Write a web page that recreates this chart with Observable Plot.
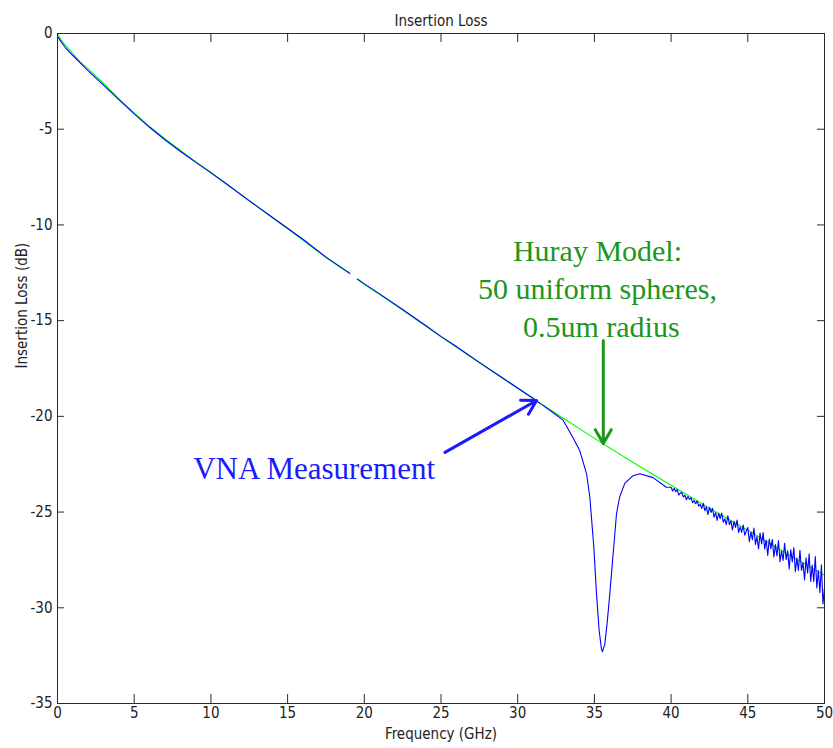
<!DOCTYPE html>
<html>
<head>
<meta charset="utf-8">
<script src="https://cdn.jsdelivr.net/npm/d3@7"></script>
<script src="https://cdn.jsdelivr.net/npm/@observablehq/plot@0.6"></script>
<style>
  body { margin: 0; background: #fff; }
  #chart svg { display: block; }
</style>
</head>
<body>
<div id="chart"></div>
<script>
// Huray roughness model: 50 uniform spheres, 0.5 um radius
const modelFreq = [0, 0.25, 0.5, 1, 1.5, 2, 3, 4, 5, 6, 7, 8, 9, 10, 12.5, 15, 17.5, 19.05, 19.3, 19.55, 20, 22.5, 25, 27.5, 30, 32.5, 35, 37.5, 40, 42.5, 45, 47.5, 50];
const modelLoss = [0, -0.35, -0.6, -1.05, -1.5, -1.85, -2.6, -3.4, -4.15, -4.85, -5.5, -6.1, -6.7, -7.25, -8.75, -10.2, -11.7, -12.55, NaN, -12.85, -13.1, -14.45, -15.85, -17.2, -18.55, -19.85, -21.15, -22.4, -23.6, -24.8, -25.95, -27.15, -28.3];

// VNA measurement (GHz, dB)
const vnaFreq = [
  0, 0.25, 0.5, 1, 1.5, 2, 3, 4, 5, 6, 7, 8, 9, 10, 11, 12.5, 14, 15, 16, 17.5, 19.05, 19.3, 19.55, 20, 21, 22.5, 24, 25, 26, 27.5, 29, 30, 31, 31.5, 32.3, 32.96,
  33.6, 34.05, 34.49, 34.7, 34.81, 34.96, 35.14, 35.31, 35.46, 35.52, 35.68, 35.83, 36.0, 36.22, 36.44, 36.65, 36.98, 37.52, 37.96, 38.82, 39.69,
  40.0, 40.1, 40.2, 40.3, 40.4, 40.5, 40.6, 40.7, 40.8, 40.9, 41.0, 41.1, 41.2, 41.3, 41.4, 41.5, 41.6, 41.7, 41.8, 41.9,
  42.0, 42.1, 42.2, 42.3, 42.4, 42.5, 42.6, 42.7, 42.8, 42.9, 43.0, 43.1, 43.2, 43.3, 43.4, 43.5, 43.6, 43.7, 43.8, 43.9,
  44.0, 44.1, 44.2, 44.3, 44.4, 44.5, 44.6, 44.7, 44.8, 44.9, 45.0, 45.1, 45.2, 45.3, 45.4, 45.5, 45.6, 45.7, 45.8, 45.9,
  46.0, 46.1, 46.2, 46.3, 46.4, 46.5, 46.6, 46.7, 46.8, 46.9, 47.0, 47.1, 47.2, 47.3, 47.4, 47.5, 47.6, 47.7, 47.8, 47.9,
  48.0, 48.1, 48.2, 48.3, 48.4, 48.5, 48.6, 48.7, 48.8, 48.9, 49.0, 49.1, 49.2, 49.3, 49.4, 49.5, 49.6, 49.7, 49.8, 49.9, 50.0
];
const vnaLoss = [
  -0.15, -0.45, -0.72, -1.15, -1.55, -1.95, -2.7, -3.45, -4.2, -4.9, -5.55, -6.15, -6.72, -7.28, -7.85, -8.73, -9.6, -10.17, -10.75, -11.68, -12.52, NaN, -12.82, -13.08, -13.6, -14.42, -15.25, -15.82, -16.35, -17.18, -17.98, -18.52, -19.05, -19.35, -19.8, -20.2,
  -21.1, -21.8, -23.0, -24.2, -25.3, -26.8, -29.3, -31.2, -32.15, -32.3, -31.9, -30.8, -29.3, -27.2, -25.1, -24.2, -23.5, -23.1, -23.0, -23.2, -23.7,
  -23.70, -23.90, -23.76, -23.94, -23.82, -24.11, -24.01, -23.98, -24.21, -24.12, -24.36, -24.18, -24.34, -24.25, -24.51, -24.40, -24.56, -24.42, -24.69, -24.60,
  -24.81, -24.54, -24.93, -24.73, -25.13, -24.75, -25.02, -24.80, -25.27, -25.03, -25.44, -25.06, -25.35, -25.05, -25.53, -25.35, -25.66, -25.19, -25.66, -25.46,
  -25.93, -25.48, -25.80, -25.42, -26.07, -25.77, -26.06, -25.68, -26.21, -26.00, -25.80, -26.55, -26.04, -26.44, -25.84, -26.69, -26.28, -26.93, -26.10, -26.67,
  -26.07, -26.92, -26.46, -27.26, -26.41, -26.91, -26.43, -27.35, -26.70, -27.29, -26.49, -27.59, -27.03, -27.53, -26.63, -27.48, -27.02, -27.97, -26.97, -27.61,
  -26.86, -28.11, -27.40, -28.05, -27.00, -28.05, -27.64, -28.54, -27.39, -28.18, -27.18, -28.63, -27.77, -28.62, -27.32, -28.97, -28.06, -29.21, -27.76, -29.80, -28.95
];

const xTicks = [0, 5, 10, 15, 20, 25, 30, 35, 40, 45, 50];
const yTicks = [0, -5, -10, -15, -20, -25, -30, -35];

const hurayLines = ["Huray Model:", "50 uniform spheres,", "0.5um radius"];
const vnaLabel = ["VNA Measurement"];

const model = modelFreq.map((f, i) => ({f, db: modelLoss[i]}));
const vna = vnaFreq.map((f, i) => ({f, db: vnaLoss[i]}));

const uiFont = "'Liberation Sans Narrow', 'DejaVu Sans Condensed', 'Liberation Sans', Arial, sans-serif";
const serif = "'Liberation Serif', 'Times New Roman', serif";
const axisColor = "#2a2a2a";
const annGreen = "#1c961c";
const annBlue = "#1a1aff";

const frameW = 833 - 57 - 9;
const frameH = 748 - 33 - 45;

const chart = Plot.plot({
  width: 833,
  height: 748,
  marginLeft: 57,
  marginRight: 9,
  marginTop: 33,
  marginBottom: 45,
  style: {background: "#fff", fontFamily: uiFont, color: "#222"},
  x: {domain: [0, 50]},
  y: {domain: [-35, 0]},
  marks: [
    Plot.line(model, {x: "f", y: "db", stroke: "#00ff00", strokeWidth: 1.1}),
    Plot.line(vna, {x: "f", y: "db", stroke: "#0000ff", strokeWidth: 1.1}),
    Plot.frame({stroke: axisColor, strokeWidth: 1}),
    // inward tick marks on all four sides
    Plot.tickX(xTicks, {x: d => d, insetTop: frameH - 9, stroke: axisColor}),
    Plot.tickX(xTicks, {x: d => d, insetBottom: frameH - 9, stroke: axisColor}),
    Plot.tickY(yTicks, {y: d => d, insetRight: frameW - 7, stroke: axisColor}),
    Plot.tickY(yTicks, {y: d => d, insetLeft: frameW - 7, stroke: axisColor}),
    Plot.axisX({ticks: xTicks, tickSize: 0, tickPadding: 4, tickFormat: d => String(d), label: null, fontSize: 15, fontFamily: uiFont}),
    Plot.axisY({ticks: yTicks, tickSize: 0, tickPadding: 5, tickFormat: d => String(d), label: null, fontSize: 15, fontFamily: uiFont}),
    Plot.text(["Insertion Loss"], {frameAnchor: "top", dy: -18, fontSize: 15, fontFamily: uiFont, fill: "#222"}),
    Plot.text(["Frequency (GHz)"], {frameAnchor: "bottom", dy: 35, fontSize: 15, fontFamily: uiFont, fill: "#222"}),
    Plot.text(["Insertion Loss (dB)"], {frameAnchor: "left", dx: -35, rotate: -90, fontSize: 15, fontFamily: uiFont, fill: "#222", ariaLabel: "ylabel"}),
    // annotations
    Plot.arrow([{x1: 25.26, y1: -21.88, x2: 31.23, y2: -19.17}], {x1: "x1", y1: "y1", x2: "x2", y2: "y2", stroke: annBlue, strokeWidth: 3, headLength: 8}),
    Plot.arrow([{x1: 35.58, y1: -16.04, x2: 35.58, y2: -21.42}], {x1: "x1", y1: "y1", x2: "x2", y2: "y2", stroke: annGreen, strokeWidth: 3, headLength: 8}),
    Plot.text(vnaLabel, {x: 16.73, y: -22.73, text: d => d, fill: annBlue, fontSize: 31, fontFamily: serif}),
    Plot.text(hurayLines, {x: (d, i) => [35.2, 35.2, 35.45][i], y: (d, i) => [-11.4, -13.36, -15.33][i], text: d => d, fill: annGreen, fontSize: 30, fontFamily: serif})
  ]
});

d3.select(chart).selectAll('g[aria-label="ylabel"] text').attr("letter-spacing", "1.9px");
document.getElementById("chart").append(chart);
</script>
</body>
</html>
